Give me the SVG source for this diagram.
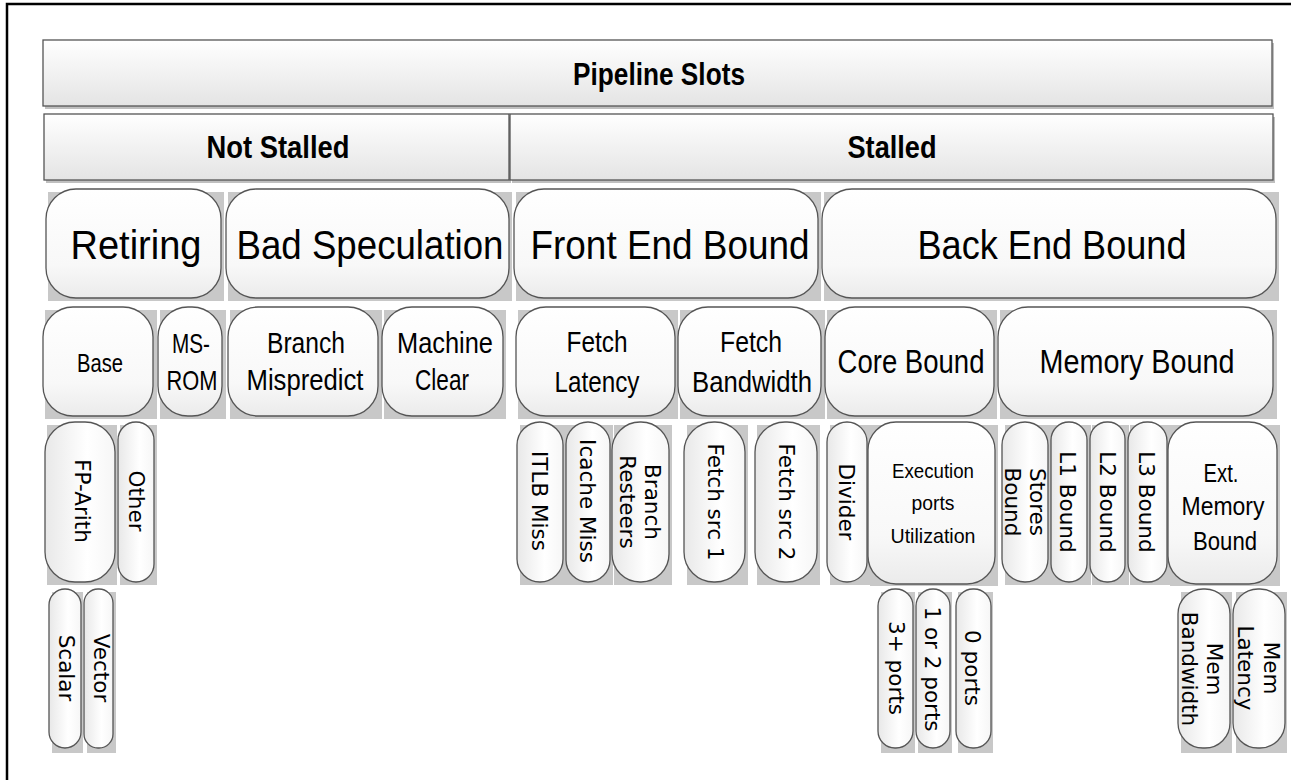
<svg xmlns="http://www.w3.org/2000/svg" width="1291" height="780" viewBox="0 0 1291 780">
<defs>
<linearGradient id="gBar" x1="0" y1="0" x2="0" y2="1"><stop offset="0" stop-color="#ffffff"/><stop offset="1" stop-color="#e4e4e4"/></linearGradient>
<linearGradient id="gBox" x1="0" y1="0" x2="0" y2="1"><stop offset="0" stop-color="#ffffff"/><stop offset="0.7" stop-color="#f8f8f8"/><stop offset="1" stop-color="#ebebeb"/></linearGradient>
<linearGradient id="gVer" x1="0" y1="0" x2="1" y2="0"><stop offset="0" stop-color="#e8e8e8"/><stop offset="0.6" stop-color="#ffffff"/><stop offset="1" stop-color="#f6f6f6"/></linearGradient>
</defs>
<style>
.frame{fill:none;stroke:#000;stroke-width:2.5}
.shadow{fill:#bfbfbf}
.bar{fill:url(#gBar);stroke:#555;stroke-width:1.3}
.bg{fill:#c8c8c8}
.box{fill:url(#gBox);stroke:#555;stroke-width:1.3}
.boxv{fill:url(#gVer);stroke:#555;stroke-width:1.3}
.tb{font-family:"Liberation Sans",Arial,sans-serif;font-weight:bold;font-size:32px;text-anchor:middle;fill:#000}
.tc{font-family:"Liberation Sans",Arial,sans-serif;text-anchor:middle;fill:#000}
.big{font-size:40px}
.tv{font-family:"DejaVu Sans",Verdana,sans-serif;font-size:21.5px;text-anchor:middle;fill:#000}
</style>
<rect width="1291" height="780" fill="#fff"/>
<path class="frame" d="M7,780 V4 H1291"/>

<g id="pipeline-slots">
<rect class="shadow" x="45" y="43" width="1229" height="66"/>
<rect class="bar" x="43" y="40" width="1229" height="66"/>
<text class="tb" x="659" y="85" textLength="172" lengthAdjust="spacingAndGlyphs">Pipeline Slots</text>
</g>
<g id="not-stalled">
<rect class="shadow" x="46" y="117" width="465" height="66"/>
<rect class="bar" x="44" y="114" width="465" height="66"/>
<text class="tb" x="278" y="158" textLength="143" lengthAdjust="spacingAndGlyphs">Not Stalled</text>
</g>
<g id="stalled">
<rect class="shadow" x="512" y="117" width="763" height="66"/>
<rect class="bar" x="510" y="114" width="763" height="66"/>
<text class="tb" x="892" y="158" textLength="89" lengthAdjust="spacingAndGlyphs">Stalled</text>
</g>

<g id="retiring">
<rect class="bg" x="48" y="192" width="176" height="109"/>
<rect class="box" x="46" y="189" width="175" height="109" rx="30"/>
<text class="tc big" x="136" y="259" textLength="131" lengthAdjust="spacingAndGlyphs">Retiring</text>
</g>
<g id="bad-speculation">
<rect class="bg" x="228" y="192" width="284" height="109"/>
<rect class="box" x="226" y="189" width="283" height="109" rx="30"/>
<text class="tc big" x="370" y="259" textLength="267" lengthAdjust="spacingAndGlyphs">Bad Speculation</text>
</g>
<g id="front-end-bound">
<rect class="bg" x="516" y="192" width="305" height="109"/>
<rect class="box" x="514" y="189" width="304" height="109" rx="30"/>
<text class="tc big" x="670" y="259" textLength="279" lengthAdjust="spacingAndGlyphs">Front End Bound</text>
</g>
<g id="back-end-bound">
<rect class="bg" x="824" y="192" width="455" height="109"/>
<rect class="box" x="822" y="189" width="454" height="109" rx="30"/>
<text class="tc big" x="1052" y="259" textLength="269" lengthAdjust="spacingAndGlyphs">Back End Bound</text>
</g>

<g id="base">
<rect class="bg" x="45" y="310" width="112" height="109"/>
<rect class="box" x="43" y="307" width="110" height="109" rx="30"/>
<text class="tc" x="100" y="372" font-size="25" textLength="46" lengthAdjust="spacingAndGlyphs">Base</text>
</g>
<g id="ms-rom">
<rect class="bg" x="160" y="310" width="66" height="109"/>
<rect class="box" x="158" y="307" width="64" height="109" rx="30"/>
<text class="tc" x="191" y="353" font-size="28" textLength="38" lengthAdjust="spacingAndGlyphs">MS-</text>
<text class="tc" x="192" y="390" font-size="28" textLength="51" lengthAdjust="spacingAndGlyphs">ROM</text>
</g>
<g id="branch-mispredict">
<rect class="bg" x="230" y="310" width="152" height="109"/>
<rect class="box" x="228" y="307" width="150" height="109" rx="30"/>
<text class="tc" x="306" y="353" font-size="29" textLength="78" lengthAdjust="spacingAndGlyphs">Branch</text>
<text class="tc" x="305" y="390" font-size="29" textLength="117" lengthAdjust="spacingAndGlyphs">Mispredict</text>
</g>
<g id="machine-clear">
<rect class="bg" x="384" y="310" width="122" height="109"/>
<rect class="box" x="382" y="307" width="121" height="109" rx="30"/>
<text class="tc" x="445" y="353" font-size="29" textLength="96" lengthAdjust="spacingAndGlyphs">Machine</text>
<text class="tc" x="442" y="390" font-size="29" textLength="54" lengthAdjust="spacingAndGlyphs">Clear</text>
</g>
<g id="fetch-latency">
<rect class="bg" x="518" y="310" width="160" height="109"/>
<rect class="box" x="516" y="307" width="159" height="109" rx="30"/>
<text class="tc" x="597" y="352" font-size="30" textLength="61" lengthAdjust="spacingAndGlyphs">Fetch</text>
<text class="tc" x="597" y="392" font-size="30" textLength="85" lengthAdjust="spacingAndGlyphs">Latency</text>
</g>
<g id="fetch-bandwidth">
<rect class="bg" x="680" y="310" width="145" height="109"/>
<rect class="box" x="678" y="307" width="143" height="109" rx="30"/>
<text class="tc" x="751" y="352" font-size="30" textLength="62" lengthAdjust="spacingAndGlyphs">Fetch</text>
<text class="tc" x="752" y="392" font-size="30" textLength="120" lengthAdjust="spacingAndGlyphs">Bandwidth</text>
</g>
<g id="core-bound">
<rect class="bg" x="827" y="310" width="170" height="109"/>
<rect class="box" x="825" y="307" width="169" height="109" rx="30"/>
<text class="tc" x="911" y="373" font-size="34" textLength="147" lengthAdjust="spacingAndGlyphs">Core Bound</text>
</g>
<g id="memory-bound">
<rect class="bg" x="1000" y="310" width="277" height="109"/>
<rect class="box" x="998" y="307" width="275" height="109" rx="30"/>
<text class="tc" x="1137" y="373" font-size="34" textLength="195" lengthAdjust="spacingAndGlyphs">Memory Bound</text>
</g>

<g id="fp-arith">
<rect class="bg" x="47" y="425" width="70" height="160"/>
<rect class="boxv" x="45" y="422" width="70" height="160" rx="30"/>
<text class="tv" x="83" y="501" dy="0.36em" transform="rotate(90 83 501)">FP-Arith</text>
</g>
<g id="other">
<rect class="bg" x="120" y="425" width="37" height="160"/>
<rect class="boxv" x="118" y="422" width="36" height="160" rx="18"/>
<text class="tv" x="137" y="501" dy="0.36em" transform="rotate(90 137 501)">Other</text>
</g>
<g id="itlb-miss">
<rect class="bg" x="520" y="425" width="47" height="160"/>
<rect class="boxv" x="517" y="422" width="46" height="160" rx="23"/>
<text class="tv" x="540" y="501" dy="0.36em" transform="rotate(90 540 501)">ITLB Miss</text>
</g>
<g id="icache-miss">
<rect class="bg" x="567" y="425" width="46" height="160"/>
<rect class="boxv" x="566" y="422" width="44" height="160" rx="22"/>
<text class="tv" x="588" y="501" dy="0.36em" transform="rotate(90 588 501)">Icache Miss</text>
</g>
<g id="branch-resteers">
<rect class="bg" x="614" y="425" width="58" height="160"/>
<rect class="boxv" x="612" y="422" width="57" height="160" rx="28"/>
<text class="tv" x="653" y="502" dy="0.36em" transform="rotate(90 653 502)">Branch</text>
<text class="tv" x="628" y="502" dy="0.36em" transform="rotate(90 628 502)">Resteers</text>
</g>
<g id="fetch-src-1">
<rect class="bg" x="687" y="425" width="61" height="160"/>
<rect class="boxv" x="684" y="422" width="61" height="160" rx="30"/>
<text class="tv" x="716" y="502" dy="0.36em" transform="rotate(90 716 502)">Fetch src 1</text>
</g>
<g id="fetch-src-2">
<rect class="bg" x="757" y="425" width="63" height="160"/>
<rect class="boxv" x="755" y="422" width="62" height="160" rx="30"/>
<text class="tv" x="787" y="502" dy="0.36em" transform="rotate(90 787 502)">Fetch src 2</text>
</g>
<g id="divider">
<rect class="bg" x="830" y="425" width="41" height="160"/>
<rect class="boxv" x="827" y="422" width="40" height="160" rx="20"/>
<text class="tv" x="847" y="502" dy="0.36em" transform="rotate(90 847 502)">Divider</text>
</g>
<g id="execution-ports-utilization">
<rect class="bg" x="870" y="425" width="128" height="161"/>
<rect class="box" x="868" y="422" width="127" height="162" rx="28"/>
<text class="tc" x="933" y="478" font-size="21" textLength="82" lengthAdjust="spacingAndGlyphs">Execution</text>
<text class="tc" x="933" y="510" font-size="21" textLength="43" lengthAdjust="spacingAndGlyphs">ports</text>
<text class="tc" x="933" y="543" font-size="21" textLength="85" lengthAdjust="spacingAndGlyphs">Utilization</text>
</g>
<g id="stores-bound">
<rect class="bg" x="1005" y="425" width="48" height="160"/>
<rect class="boxv" x="1002" y="422" width="46" height="160" rx="23"/>
<text class="tv" x="1038" y="502" dy="0.36em" transform="rotate(90 1038 502)">Stores</text>
<text class="tv" x="1013" y="502" dy="0.36em" transform="rotate(90 1013 502)">Bound</text>
</g>
<g id="l1-bound">
<rect class="bg" x="1053" y="425" width="38" height="160"/>
<rect class="boxv" x="1051" y="422" width="36" height="160" rx="18"/>
<text class="tv" x="1068" y="502" dy="0.36em" transform="rotate(90 1068 502)">L1 Bound</text>
</g>
<g id="l2-bound">
<rect class="bg" x="1092" y="425" width="37" height="160"/>
<rect class="boxv" x="1090" y="422" width="35" height="160" rx="17"/>
<text class="tv" x="1108" y="502" dy="0.36em" transform="rotate(90 1108 502)">L2 Bound</text>
</g>
<g id="l3-bound">
<rect class="bg" x="1130" y="425" width="40" height="160"/>
<rect class="boxv" x="1128" y="422" width="39" height="160" rx="19"/>
<text class="tv" x="1147" y="502" dy="0.36em" transform="rotate(90 1147 502)">L3 Bound</text>
</g>
<g id="ext-memory-bound">
<rect class="bg" x="1170" y="425" width="110" height="161"/>
<rect class="box" x="1168" y="422" width="109" height="162" rx="28"/>
<text class="tc" x="1221" y="482" font-size="25" textLength="35" lengthAdjust="spacingAndGlyphs">Ext.</text>
<text class="tc" x="1223" y="515" font-size="25" textLength="83" lengthAdjust="spacingAndGlyphs">Memory</text>
<text class="tc" x="1225" y="550" font-size="25" textLength="64" lengthAdjust="spacingAndGlyphs">Bound</text>
</g>

<g id="scalar">
<rect class="bg" x="52" y="592" width="31" height="161"/>
<rect class="boxv" x="49" y="589" width="32" height="159" rx="16"/>
<text class="tv" x="67" y="668" dy="0.36em" transform="rotate(90 67 668)">Scalar</text>
</g>
<g id="vector">
<rect class="bg" x="87" y="592" width="29" height="161"/>
<rect class="boxv" x="84" y="589" width="29" height="159" rx="14"/>
<text class="tv" x="102" y="668" dy="0.36em" transform="rotate(90 102 668)">Vector</text>
</g>
<g id="ports-3plus">
<rect class="bg" x="881" y="592" width="34" height="161"/>
<rect class="boxv" x="878" y="589" width="35" height="159" rx="17"/>
<text class="tv" x="897" y="668" dy="0.36em" transform="rotate(90 897 668)">3+ ports</text>
</g>
<g id="ports-1or2">
<rect class="bg" x="918" y="592" width="34" height="161"/>
<rect class="boxv" x="916" y="589" width="34" height="159" rx="17"/>
<text class="tv" x="933" y="669" dy="0.36em" transform="rotate(90 933 669)">1 or 2 ports</text>
</g>
<g id="ports-0">
<rect class="bg" x="958" y="592" width="35" height="161"/>
<rect class="boxv" x="956" y="589" width="35" height="159" rx="17"/>
<text class="tv" x="973" y="668" dy="0.36em" transform="rotate(90 973 668)">0 ports</text>
</g>
<g id="mem-bandwidth">
<rect class="bg" x="1181" y="592" width="51" height="161"/>
<rect class="boxv" x="1178" y="589" width="52" height="159" rx="25"/>
<text class="tv" x="1215" y="669" dy="0.36em" transform="rotate(90 1215 669)">Mem</text>
<text class="tv" x="1190" y="669" dy="0.36em" transform="rotate(90 1190 669)">Bandwidth</text>
</g>
<g id="mem-latency">
<rect class="bg" x="1236" y="592" width="51" height="161"/>
<rect class="boxv" x="1233" y="589" width="52" height="159" rx="25"/>
<text class="tv" x="1272" y="668" dy="0.36em" transform="rotate(90 1272 668)">Mem</text>
<text class="tv" x="1246" y="668" dy="0.36em" transform="rotate(90 1246 668)">Latency</text>
</g>

<g id="connectors"></g>
</svg>
